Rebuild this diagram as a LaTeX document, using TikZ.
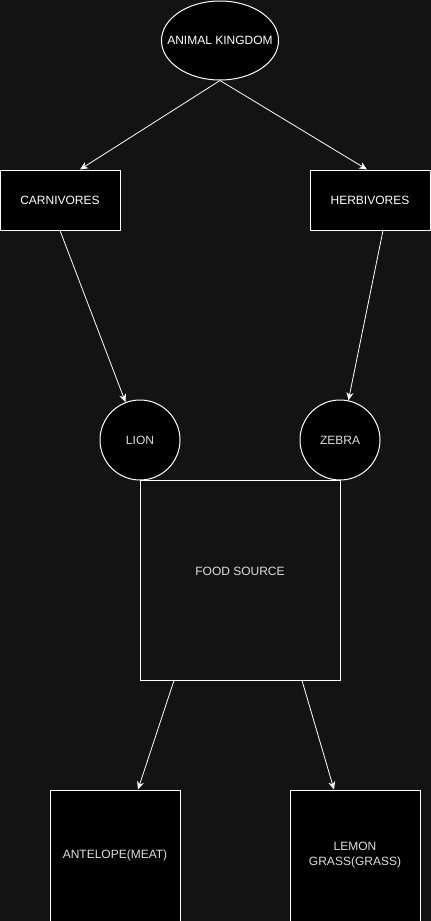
\documentclass[tikz,border=0pt]{standalone}
\usepackage{fontspec}
\setmainfont{Liberation Sans}
\usepackage{xcolor}
\usetikzlibrary{shapes.geometric,arrows.meta,positioning}

\definecolor{canvas}{RGB}{19,19,19}
\definecolor{labelgray}{RGB}{222,222,222}

\begin{document}
\begin{tikzpicture}[
            x=1pt, y=-1pt,
            font=\fontsize{12}{15}\selectfont,
            oval/.style={ellipse, draw=white, fill=black, line width=1pt, text=white, inner xsep=-11.3pt, inner ysep=0pt, minimum height=79pt},
            block/.style={rectangle, draw=white, fill=black, line width=1pt, text=white, align=center, inner sep=0pt, minimum width=120pt, minimum height=60pt},
            animal/.style={circle, draw=white, fill=black, line width=1pt, text=labelgray, inner sep=0pt, minimum size=80pt},
            source/.style={rectangle, draw=white, fill=black, line width=1pt, text=labelgray, align=center, inner sep=0pt, minimum width=130pt, minimum height=131pt},
            line/.style={draw=white, line width=0.8pt, -{Stealth[length=8pt,width=7pt]}}
        ]

        % Canvas
        \fill [canvas] (0,0) rectangle (431,921);
        \useasboundingbox (0,0) rectangle (431,921);

        % Main Nodes
        \node [oval] (kingdom) at (220,40.5) {ANIMAL KINGDOM};
        \node [block] (carnivores) at (60,200) {CARNIVORES};
        \node [block] (herbivores) at (370,200) {HERBIVORES};

        % Animals and what they eat
        \node [animal] (lion) at (140,440) {LION};
        \node [animal] (zebra) at (340,440) {ZEBRA};
        \node [rectangle, draw=white, line width=1pt, text=labelgray, text depth=17pt, minimum width=200pt, minimum height=200pt, inner sep=0pt] (food) at (240,580) {FOOD SOURCE};
        \node [source] (antelope) at (115,855.5) {ANTELOPE(MEAT)};
        \node [source] (grass) at (355,855.5) {LEMON\\GRASS(GRASS)};

        % Edges
        \path [line] (kingdom.south) -- ([xshift=20pt]carnivores.north);
        \path [line] (kingdom.south) -- ([xshift=-3pt]herbivores.north);
        \path [line] (carnivores.south) -- (lion.111);
        \path [line] ([xshift=13pt]herbivores.south) -- (zebra.78);
        \path [line] ([xshift=-66pt]food.south) -- ([xshift=23pt]antelope.north);
        \path [line] ([xshift=62pt]food.south) -- ([xshift=-21pt]grass.north);

    \end{tikzpicture}
\end{document}
